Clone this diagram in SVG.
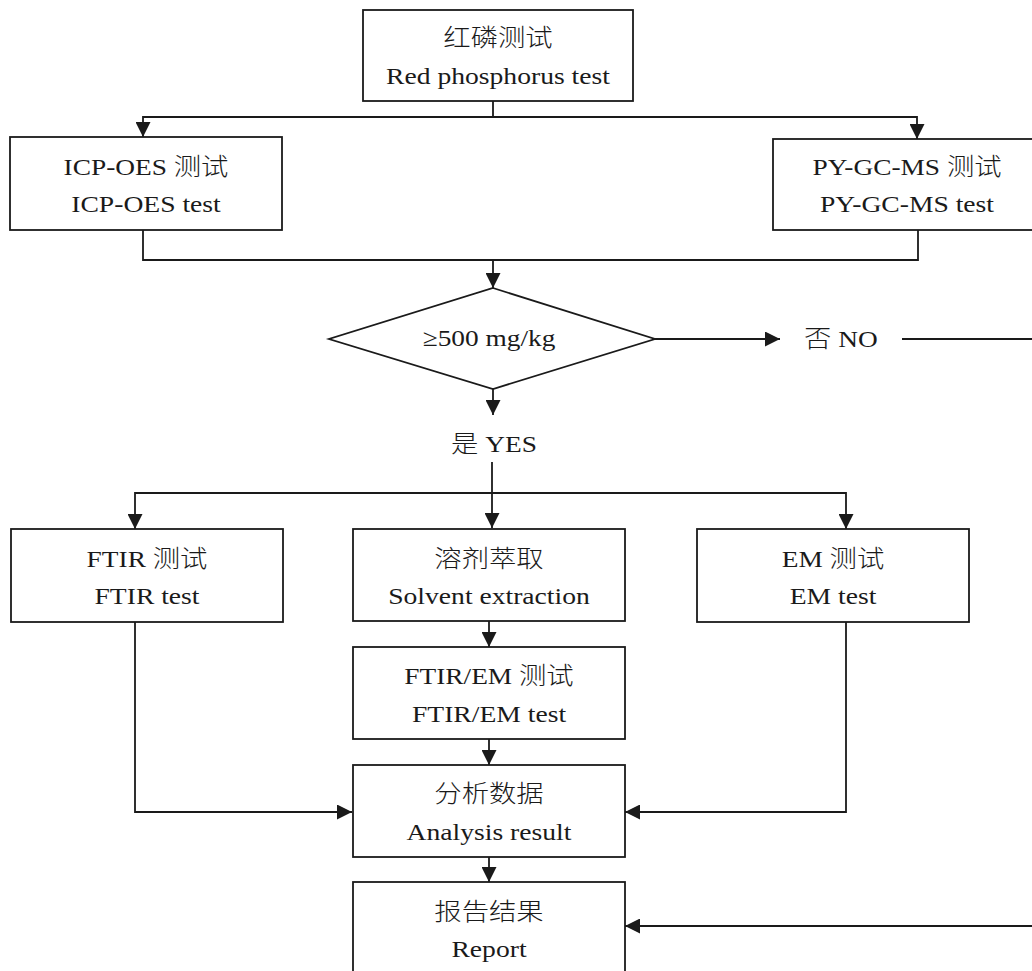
<svg xmlns="http://www.w3.org/2000/svg" width="1032" height="971" viewBox="0 0 1032 971">
<style>
  .box { fill: #ffffff; stroke: #1a1a1a; stroke-width: 1.8; }
  .conn { fill: none; stroke: #1a1a1a; stroke-width: 1.8; }
  .t { font-family: "Liberation Serif", "Noto Sans CJK SC", serif; font-size: 24px; fill: #1a1a1a; text-anchor: middle; }
  .cj { font-family: "Noto Sans CJK SC", sans-serif; font-weight: 300; }
</style>
<defs>
  <marker id="arr" viewBox="0 0 14 15" refX="15" refY="7.5" markerWidth="15" markerHeight="15" markerUnits="userSpaceOnUse" orient="auto">
    <path d="M0,0 L15,7.5 L0,15 z" fill="#1a1a1a"/>
  </marker>
</defs>
<rect width="1032" height="971" fill="#ffffff"/>

<g id="connectors">
  <path class="conn" d="M493,101 V117 H143 V137" marker-end="url(#arr)"/>
  <path class="conn" d="M493,117 H917 V139" marker-end="url(#arr)"/>
  <path class="conn" d="M143,230 V260 H493 V288" marker-end="url(#arr)"/>
  <path class="conn" d="M918,230 V260 H493"/>
  <path class="conn" d="M655,339 H780" marker-end="url(#arr)"/>
  <path class="conn" d="M902,339 H1032"/>
  <path class="conn" d="M493,389 V415" marker-end="url(#arr)"/>
  <path class="conn" d="M492,462 V528" marker-end="url(#arr)"/>
  <path class="conn" d="M492,493 H135 V529" marker-end="url(#arr)"/>
  <path class="conn" d="M492,493 H846 V529" marker-end="url(#arr)"/>
  <path class="conn" d="M489,621 V647" marker-end="url(#arr)"/>
  <path class="conn" d="M489,739 V765" marker-end="url(#arr)"/>
  <path class="conn" d="M135,622 V812 H352" marker-end="url(#arr)"/>
  <path class="conn" d="M846,622 V812 H625" marker-end="url(#arr)"/>
  <path class="conn" d="M489,857 V882" marker-end="url(#arr)"/>
  <path class="conn" d="M1032,926 H625" marker-end="url(#arr)"/>
</g>

<g id="node-red-phosphorus">
  <rect class="box" x="363" y="10" width="270" height="91"/>
  <text class="t" transform="translate(498,46) scale(1.14,1)"><tspan class="cj">红磷测试</tspan></text>
  <text class="t" transform="translate(498,84) scale(1.15,1)">Red phosphorus test</text>
</g>

<g id="node-icp">
  <rect class="box" x="10" y="137" width="272" height="93"/>
  <text class="t" transform="translate(146,175) scale(1.14,1)">ICP-OES <tspan class="cj">测试</tspan></text>
  <text class="t" transform="translate(146,212) scale(1.15,1)">ICP-OES test</text>
</g>

<g id="node-pygcms">
  <rect class="box" x="773" y="139" width="268" height="91"/>
  <text class="t" transform="translate(907,175) scale(1.14,1)">PY-GC-MS <tspan class="cj">测试</tspan></text>
  <text class="t" transform="translate(907,212) scale(1.15,1)">PY-GC-MS test</text>
</g>

<g id="node-decision">
  <polygon class="box" points="493,288 655,339 493,389 329,339"/>
  <text class="t" transform="translate(489,346) scale(1.14,1)">≥500 mg/kg</text>
</g>

<g id="label-no">
  <text class="t" x="0" y="0" style="text-anchor:start" transform="translate(804,347) scale(1.14,1)"><tspan class="cj">否</tspan> NO</text>
</g>

<g id="label-yes">
  <text class="t" transform="translate(494,452) scale(1.14,1)"><tspan class="cj">是</tspan> YES</text>
</g>

<g id="node-ftir">
  <rect class="box" x="11" y="529" width="272" height="93"/>
  <text class="t" transform="translate(147,567) scale(1.14,1)">FTIR <tspan class="cj">测试</tspan></text>
  <text class="t" transform="translate(147,604) scale(1.15,1)">FTIR test</text>
</g>

<g id="node-solvent">
  <rect class="box" x="353" y="529" width="272" height="92"/>
  <text class="t" transform="translate(489,567) scale(1.14,1)"><tspan class="cj">溶剂萃取</tspan></text>
  <text class="t" transform="translate(489,604) scale(1.15,1)">Solvent extraction</text>
</g>

<g id="node-em">
  <rect class="box" x="697" y="529" width="272" height="93"/>
  <text class="t" transform="translate(833,567) scale(1.14,1)">EM <tspan class="cj">测试</tspan></text>
  <text class="t" transform="translate(833,604) scale(1.15,1)">EM test</text>
</g>

<g id="node-ftir-em">
  <rect class="box" x="353" y="647" width="272" height="92"/>
  <text class="t" transform="translate(489,684) scale(1.14,1)">FTIR/EM <tspan class="cj">测试</tspan></text>
  <text class="t" transform="translate(489,722) scale(1.15,1)">FTIR/EM test</text>
</g>

<g id="node-analysis">
  <rect class="box" x="353" y="765" width="272" height="92"/>
  <text class="t" transform="translate(489,802) scale(1.14,1)"><tspan class="cj">分析数据</tspan></text>
  <text class="t" transform="translate(489,840) scale(1.15,1)">Analysis result</text>
</g>

<g id="node-report">
  <rect class="box" x="353" y="882" width="272" height="100"/>
  <text class="t" transform="translate(489,920) scale(1.14,1)"><tspan class="cj">报告结果</tspan></text>
  <text class="t" transform="translate(489,957) scale(1.15,1)">Report</text>
</g>
</svg>
